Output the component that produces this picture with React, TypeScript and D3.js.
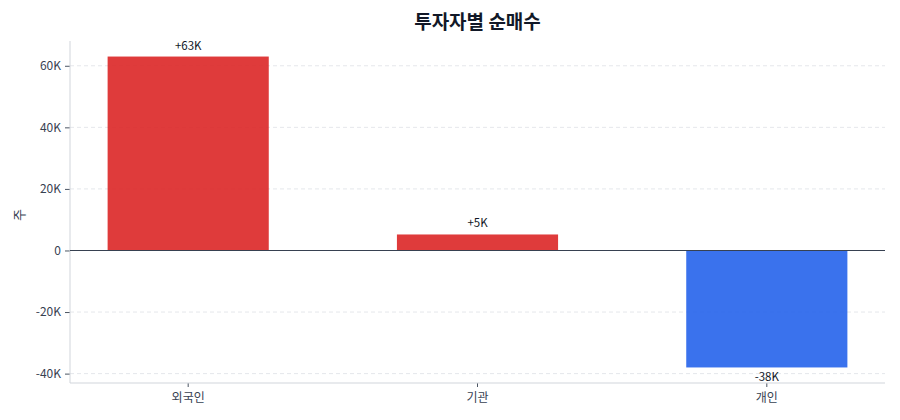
import * as d3 from 'd3'
import { useEffect, useRef } from 'react'

const investors = ['외국인', '기관', '개인']
const netBuy = [63000, 5200, -38000]
const valueLabels = ['+63K', '+5K', '-38K']
const yTicks = [-40000, -20000, 0, 20000, 40000, 60000]
const yTickLabels = ['-40K', '-20K', '0', '20K', '40K', '60K']

export default function App() {
    const svgRef = useRef<SVGSVGElement>(null)

    useEffect(() => {
        makeChart(svgRef)
    }, [])

    function makeChart(svgRef: React.RefObject<SVGSVGElement | null>) {
        const width = 900
        const height = 420
        const left = 70
        const right = 885
        const top = 41
        const bottom = 383
        const font = '"Noto Sans CJK KR", "Noto Sans", sans-serif'

        const svg = d3.select(svgRef.current).attr('width', width).attr('height', height)
        svg.selectAll('*').remove()

        const pad = (d3.max(netBuy)! - d3.min(netBuy)!) * 0.05
        const xScale = d3.scaleBand().domain(investors).range([left, right]).paddingInner(0.443).paddingOuter(0.13)
        const yScale = d3.scaleLinear().domain([d3.min(netBuy)! - pad, d3.max(netBuy)! + pad]).range([bottom, top])

        // grid
        svg.append('g').selectAll('line').data(yTicks).enter().append('line')
            .attr('x1', left).attr('x2', right)
            .attr('y1', d => yScale(d)).attr('y2', d => yScale(d))
            .attr('stroke', '#e5e7eb').attr('stroke-dasharray', '4,3')

        // left axis
        const leftAxis = d3.axisLeft(yScale).tickValues(yTicks).tickFormat((_, i) => yTickLabels[i]).tickSize(5).tickPadding(4)
        const ly = svg.append('g').attr('transform', `translate(${left}, 0)`).call(leftAxis)
        ly.select('.domain').remove()
        ly.selectAll('line').attr('stroke', '#4b5563')
        ly.selectAll('text').attr('fill', '#374151').attr('font-size', 12).attr('font-family', font)
        svg.append('line').attr('x1', left).attr('x2', left).attr('y1', top).attr('y2', bottom).attr('stroke', '#d1d5db')

        // bottom axis
        const bottomAxis = d3.axisBottom(xScale).tickSize(4).tickPadding(6)
        const bx = svg.append('g').attr('transform', `translate(0, ${bottom})`).call(bottomAxis)
        bx.select('.domain').remove()
        bx.selectAll('line').attr('stroke', '#4b5563')
        bx.selectAll('text').attr('fill', '#374151').attr('font-size', 12).attr('font-family', font)
        svg.append('line').attr('x1', left).attr('x2', right).attr('y1', bottom).attr('y2', bottom).attr('stroke', '#d1d5db')

        // bars
        svg.append('g').selectAll('rect').data(netBuy).enter().append('rect')
            .attr('x', (_, i) => xScale(investors[i])!)
            .attr('width', xScale.bandwidth())
            .attr('y', d => yScale(Math.max(d, 0)))
            .attr('height', d => Math.abs(yScale(d) - yScale(0)))
            .attr('fill', d => d >= 0 ? '#dc2626' : '#2563eb')
            .attr('fill-opacity', 0.9)

        // zero line
        svg.append('line').attr('x1', left).attr('x2', right)
            .attr('y1', yScale(0)).attr('y2', yScale(0))
            .attr('stroke', '#374151').attr('stroke-width', 1.2)

        // value labels
        svg.append('g').selectAll('text').data(netBuy).enter().append('text')
            .attr('x', (_, i) => xScale(investors[i])! + xScale.bandwidth() / 2)
            .attr('y', d => d >= 0 ? yScale(d) - 7 : yScale(d) + 14)
            .attr('text-anchor', 'middle')
            .attr('font-size', 11.5).attr('font-family', font).attr('fill', '#111827')
            .text((_, i) => valueLabels[i])

        // y label
        svg.append('text').attr('transform', `translate(24, ${(top + bottom) / 2 + 3}) rotate(-90)`)
            .attr('text-anchor', 'middle').attr('font-size', 13).attr('font-family', font).attr('fill', '#374151')
            .text('주')

        // title
        svg.append('text').attr('x', (left + right) / 2).attr('y', 29)
            .attr('text-anchor', 'middle').attr('font-size', 19).attr('font-weight', 'bold')
            .attr('font-family', font).attr('fill', '#111827')
            .text('투자자별 순매수')
    }

    return (
        <svg ref={svgRef} style={{ position: 'absolute', left: 0, top: 0 }}></svg>
    )
}
